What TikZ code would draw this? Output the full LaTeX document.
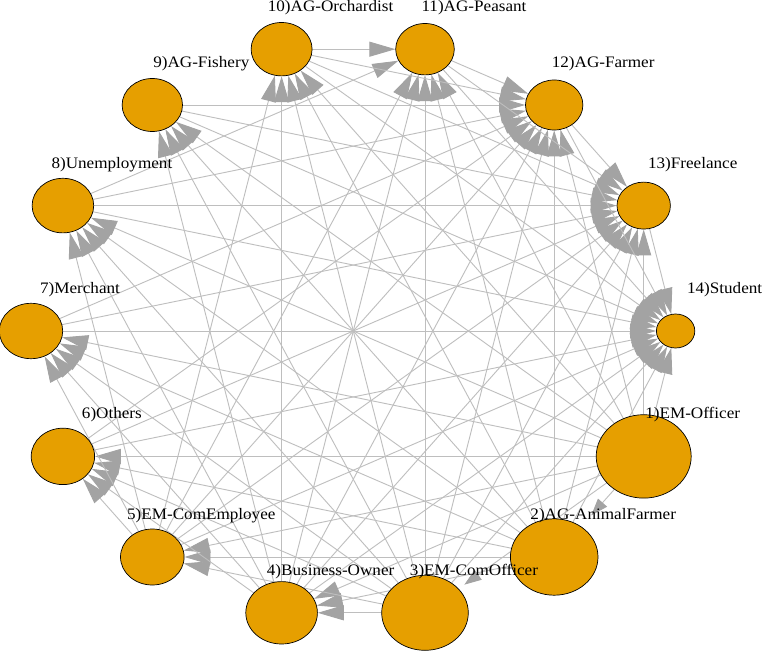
\documentclass[tikz,border=0pt]{standalone}
\usepackage{fontspec}
\newfontfamily\labfont[FakeStretch=1.07]{Liberation Serif}
\usetikzlibrary{shapes.geometric,arrows.meta}
\definecolor{nodeorange}{HTML}{E69F00}
\definecolor{edgegray}{HTML}{BEBEBE}
\definecolor{arrowgray}{HTML}{A3A3A3}
\pgfdeclarelayer{bg}
\pgfdeclarelayer{edgelayer}
\pgfsetlayers{bg,edgelayer,main}
\tikzset{
  vert/.style={ellipse, draw=black, line width=0.7pt, fill=nodeorange, inner sep=0pt},
  lab/.style={font=\labfont\fontsize{16}{18}\selectfont, inner sep=0pt, anchor=base},
  edge/.style={draw=edgegray, line width=0.9pt, -{Triangle[length=26pt,width=15pt,color=arrowgray]}},
  smalledge/.style={draw=edgegray, line width=0.9pt, -{Triangle[length=17pt,width=12pt,color=arrowgray]}},
}
\begin{document}
\begin{tikzpicture}[x=1pt,y=-1pt]
\useasboundingbox (0,0) rectangle (763,652);
\begin{pgfonlayer}{bg}
  \fill[white] (0,0) rectangle (763,652);
\end{pgfonlayer}
\foreach \k/\x/\y/\rx/\ry/\t in {
  1/643.7/456.4/47.5/41.7/{1)EM-Officer},
  2/554.2/557.0/43.8/38.2/{2)AG-AnimalFarmer},
  3/425.0/612.8/43.3/37.5/{3)EM-ComOfficer},
  4/281.6/612.8/35.8/31.2/{4)Business-Owner},
  5/152.3/557.0/31.8/28.0/{5)EM-ComEmployee},
  6/62.9/456.4/31.7/28.2/{6)Others},
  7/31.0/331.0/31.7/27.7/{7)Merchant},
  8/62.9/205.6/30.8/27.3/{8)Unemployment},
  9/152.3/105.0/30.2/26.5/{9)AG-Fishery},
  10/281.6/49.2/30.5/26.7/{10)AG-Orchardist},
  11/425.0/49.2/29.3/25.7/{11)AG-Peasant},
  12/554.2/105.0/28.7/25.0/{12)AG-Farmer},
  13/643.7/205.6/26.7/23.5/{13)Freelance},
  14/675.6/331.0/19.2/17.0/{14)Student}}{
  \node[vert, minimum width=2*\rx pt, minimum height=2*\ry pt] (n\k) at (\x,\y) {};
  \node[lab] (l\k) at (\x+49,\y-37.5) {\t};
}
\begin{pgfonlayer}{edgelayer}
  \foreach \i/\js in {
    1/{4,5,6,7,8,9,10,11,12,13,14},
    2/{4,5,6,7,8,9,10,11,12,13,14},
    3/{4,5,6,7,8,9,10,11,12,13,14},
    4/{6,7,8,9,10,11,12,13,14},
    5/{6,7,8,10,11,12,13,14},
    6/{12,13,14},
    7/{12,13,14},
    8/{11,12,13,14},
    9/{12,13,14},
    10/{11,12,13,14},
    11/{12,13,14},
    12/{13,14},
    13/{14}}{
    \foreach \j in \js {
      \draw[edge] (n\i) -- (n\j);
    }
  }
  \draw[smalledge, shorten >=15pt] (n1) -- (n2);
  \draw[smalledge, shorten >=7pt] (n1) -- (n3);
\end{pgfonlayer}
\end{tikzpicture}
\end{document}
